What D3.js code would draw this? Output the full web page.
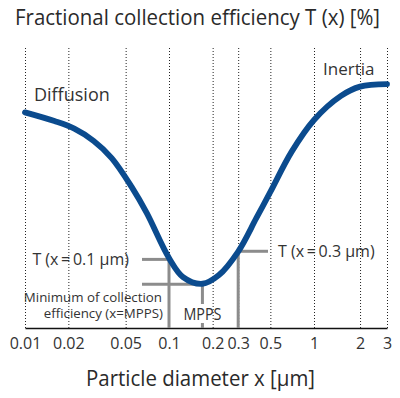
<!DOCTYPE html>
<html>
<head>
<meta charset="utf-8">
<script src="https://cdn.jsdelivr.net/npm/d3@7"></script>
<style>
  body { margin: 0; background: #fff; }
  text { font-family: "Open Sans", sans-serif; fill: #333; }
</style>
</head>
<body>
<div id="chart"></div>
<script>
// particle diameter in µm, fractional efficiency in % (no y ticks in the original)
var diameters  = [0.01, 0.016, 0.022, 0.03, 0.04, 0.055, 0.07, 0.1, 0.125, 0.17, 0.22, 0.3, 0.4, 0.5, 0.7, 1, 1.5, 2, 3];
var efficiency = [77, 73.9, 71.2, 66.8, 60.7, 50.4, 41.1, 25, 18.2, 15.8, 18.8, 27.3, 39.2, 48.6, 62.9, 74.3, 82.9, 86.2, 87.1];

var tickValues = [0.01, 0.02, 0.05, 0.1, 0.2, 0.3, 0.5, 1, 2, 3];
var tickLabels = ["0.01", "0.02", "0.05", "0.1", "0.2", "0.3", "0.5", "1", "2", "3"];

var markSizes = [0.1, 0.3];
var markT     = [24.5, 27.4];
var markLabels = ["T (x\u2009=\u20090.1 µm)", "T (x\u2009=\u20090.3 µm)"];
var mppsSize = 0.17;
var mppsT = 15.6;

var W = 400, H = 398;
var svg = d3.select("#chart").append("svg")
    .attr("width", W)
    .attr("height", H);

// log axis, slightly piecewise to follow the drawing
var x = d3.scaleLog()
    .domain([0.01, 0.1, 1, 3])
    .range([25, 169, 314, 387]);

var y = d3.scaleLinear()
    .domain([0, 100])
    .range([328, 48]);

// title
svg.append("text")
    .attr("x", 15).attr("y", 25)
    .attr("textLength", 365).attr("lengthAdjust", "spacingAndGlyphs")
    .style("font-size", "21px").style("fill", "#2a2a2a")
    .text("Fractional collection efficiency T (x) [%]");

// axis with dotted grid lines
var xAxis = svg.append("g")
    .attr("transform", "translate(0," + y(0) + ")")
    .call(d3.axisBottom(x)
        .tickValues(tickValues)
        .tickFormat(function (d, i) { return tickLabels[i]; })
        .tickSizeInner(-(y(0) - y(100)))
        .tickSizeOuter(0)
        .tickPadding(9.5));

xAxis.selectAll(".tick line")
    .attr("stroke", "#222")
    .attr("stroke-width", 1)
    .attr("stroke-dasharray", "1,2");
xAxis.select(".domain")
    .attr("stroke", "#111")
    .attr("stroke-width", 1.6);
xAxis.selectAll(".tick text")
    .style("font-size", "16px")
    .style("font-family", "'Open Sans', sans-serif")
    .attr("fill", "#333");

// x axis title
svg.append("text")
    .attr("x", 86).attr("y", 386)
    .attr("textLength", 229).attr("lengthAdjust", "spacingAndGlyphs")
    .style("font-size", "22px").style("fill", "#2a2a2a")
    .text("Particle diameter x [µm]");

// grey reference lines
var grey = "#8c8c8c";
var g = svg.append("g")
    .attr("stroke", grey)
    .attr("stroke-width", 3)
    .attr("fill", "none");

// T(x=0.1)
g.append("line")
    .attr("x1", 142).attr("x2", x(markSizes[0]))
    .attr("y1", y(markT[0])).attr("y2", y(markT[0]));
g.append("line")
    .attr("x1", x(markSizes[0])).attr("x2", x(markSizes[0]))
    .attr("y1", y(markT[0]) - 3).attr("y2", y(0));

// T(x=0.3)
g.append("line")
    .attr("x1", x(markSizes[1])).attr("x2", 268)
    .attr("y1", y(markT[1])).attr("y2", y(markT[1]));
g.append("line")
    .attr("x1", x(markSizes[1])).attr("x2", x(markSizes[1]))
    .attr("y1", y(markT[1])).attr("y2", y(0));

// MPPS
g.append("line")
    .attr("x1", 142).attr("x2", x(mppsSize))
    .attr("y1", y(mppsT)).attr("y2", y(mppsT));
g.append("line")
    .attr("x1", x(mppsSize)).attr("x2", x(mppsSize))
    .attr("y1", y(mppsT)).attr("y2", 304);
g.append("line")
    .attr("x1", x(mppsSize)).attr("x2", x(mppsSize))
    .attr("y1", 323).attr("y2", y(0));

// the curve
var pts = diameters.map(function (d, i) { return [d, efficiency[i]]; });
var line = d3.line()
    .x(function (d) { return x(d[0]); })
    .y(function (d) { return y(d[1]); })
    .curve(d3.curveCatmullRom.alpha(0.5));

svg.append("path")
    .datum(pts)
    .attr("d", line)
    .attr("fill", "none")
    .attr("stroke", "#0b4b8e")
    .attr("stroke-width", 5.8)
    .attr("stroke-linecap", "round");

// labels
svg.append("text")
    .attr("x", 34).attr("y", 101)
    .style("font-size", "18px")
    .text("Diffusion");

svg.append("text")
    .attr("x", 323).attr("y", 75)
    .style("font-size", "17px")
    .text("Inertia");

svg.append("text")
    .attr("x", 129).attr("y", y(markT[0]) + 6)
    .attr("text-anchor", "end")
    .style("font-size", "16px")
    .text(markLabels[0]);

svg.append("text")
    .attr("x", 278).attr("y", y(markT[1]) + 6)
    .style("font-size", "16px")
    .text(markLabels[1]);

svg.append("text")
    .attr("x", 162).attr("y", 301.5)
    .attr("text-anchor", "end")
    .style("font-size", "13.3px")
    .text("Minimum of collection");

svg.append("text")
    .attr("x", 163).attr("y", 318)
    .attr("text-anchor", "end")
    .style("font-size", "13.3px")
    .text("efficiency (x=MPPS)");

svg.append("text")
    .attr("x", x(mppsSize) - 19).attr("y", 320)
    .attr("textLength", 38).attr("lengthAdjust", "spacingAndGlyphs")
    .style("font-size", "17px")
    .text("MPPS");
</script>
</body>
</html>
